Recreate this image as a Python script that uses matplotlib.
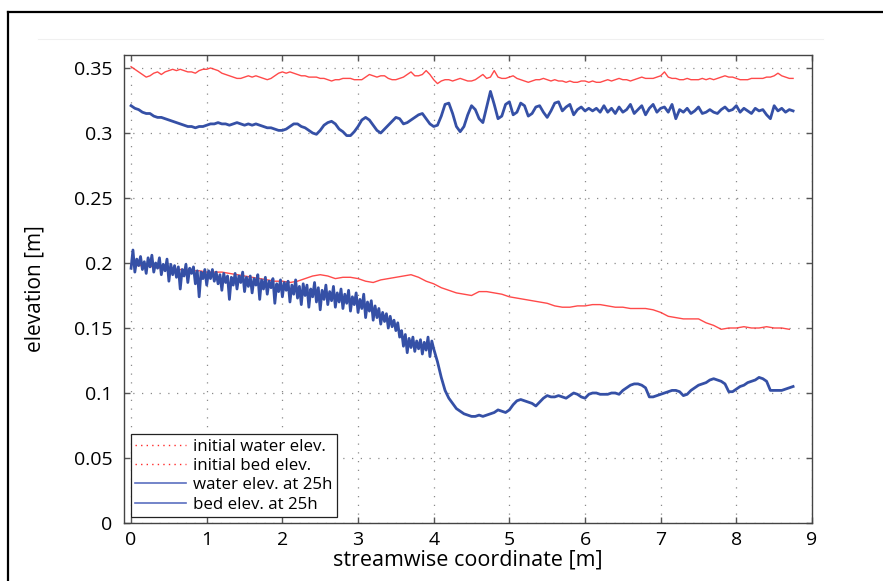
import numpy as np
import matplotlib
matplotlib.use("Agg")
import matplotlib.pyplot as plt
from matplotlib.lines import Line2D

plt.rcParams['font.family'] = ['Open Sans', 'DejaVu Sans']

# ---------------- data ----------------
step_top = 0.05
init_water = [
    0.351, 0.349, 0.347, 0.345, 0.343, 0.344, 0.346, 0.347, 0.345, 0.347,
    0.348, 0.349, 0.348, 0.349, 0.348, 0.347, 0.347, 0.346, 0.348, 0.349,
    0.349, 0.350, 0.349, 0.348, 0.346, 0.345, 0.344, 0.343, 0.342, 0.342,
    0.343, 0.344, 0.343, 0.344, 0.343, 0.342, 0.341, 0.342, 0.344, 0.346,
    0.347, 0.346, 0.347, 0.346, 0.345, 0.344, 0.344, 0.343, 0.343, 0.343,
    0.342, 0.342, 0.341, 0.340, 0.341, 0.341, 0.342, 0.342, 0.342, 0.341,
    0.341, 0.341, 0.343, 0.345, 0.344, 0.343, 0.344, 0.344, 0.342, 0.341,
    0.341, 0.342, 0.343, 0.345, 0.347, 0.344, 0.344, 0.345, 0.348, 0.345,
    0.341, 0.338, 0.340, 0.341, 0.341, 0.340, 0.341, 0.342, 0.341, 0.340,
    0.340, 0.341, 0.343, 0.345, 0.342, 0.343, 0.348, 0.343, 0.342, 0.342,
    0.343, 0.344, 0.342, 0.341, 0.340, 0.339, 0.340, 0.341, 0.341, 0.342,
    0.341, 0.340, 0.341, 0.340, 0.340, 0.339, 0.340, 0.339, 0.339, 0.340,
    0.340, 0.339, 0.340, 0.339, 0.339, 0.340, 0.341, 0.340, 0.341, 0.342,
    0.341, 0.341, 0.340, 0.341, 0.342, 0.343, 0.342, 0.342, 0.342, 0.343,
    0.344, 0.347, 0.343, 0.342, 0.342, 0.341, 0.341, 0.342, 0.341, 0.341,
    0.341, 0.342, 0.341, 0.342, 0.341, 0.342, 0.343, 0.344, 0.343, 0.343,
    0.342, 0.341, 0.341, 0.341, 0.342, 0.342, 0.342, 0.342, 0.343, 0.343,
    0.344, 0.346, 0.344, 0.343, 0.342, 0.342,
]

water_25h = [
    0.321, 0.319, 0.318, 0.316, 0.315, 0.315, 0.313, 0.312, 0.312, 0.311,
    0.310, 0.309, 0.308, 0.307, 0.306, 0.305, 0.305, 0.304, 0.305, 0.305,
    0.306, 0.307, 0.307, 0.308, 0.307, 0.307, 0.306, 0.307, 0.308, 0.307,
    0.306, 0.307, 0.306, 0.307, 0.306, 0.305, 0.304, 0.304, 0.303, 0.302,
    0.302, 0.303, 0.305, 0.307, 0.307, 0.305, 0.304, 0.302, 0.300, 0.299,
    0.302, 0.306, 0.308, 0.309, 0.307, 0.303, 0.301, 0.298, 0.298, 0.301,
    0.305, 0.310, 0.312, 0.310, 0.306, 0.302, 0.300, 0.303, 0.306, 0.309,
    0.312, 0.311, 0.307, 0.308, 0.310, 0.312, 0.314, 0.315, 0.311, 0.307,
    0.305, 0.306, 0.313, 0.322, 0.323, 0.315, 0.305, 0.301, 0.305, 0.314,
    0.321, 0.318, 0.311, 0.308, 0.320, 0.332, 0.322, 0.311, 0.313, 0.322,
    0.324, 0.314, 0.316, 0.323, 0.321, 0.313, 0.315, 0.320, 0.321, 0.316,
    0.312, 0.317, 0.323, 0.324, 0.317, 0.320, 0.322, 0.314, 0.318, 0.320,
    0.317, 0.319, 0.317, 0.319, 0.316, 0.321, 0.316, 0.319, 0.315, 0.320,
    0.316, 0.318, 0.322, 0.315, 0.318, 0.321, 0.314, 0.319, 0.322, 0.316,
    0.319, 0.320, 0.316, 0.322, 0.311, 0.318, 0.316, 0.319, 0.315, 0.317,
    0.320, 0.315, 0.316, 0.318, 0.316, 0.315, 0.318, 0.320, 0.317, 0.318,
    0.321, 0.316, 0.319, 0.317, 0.315, 0.319, 0.317, 0.318, 0.314, 0.311,
    0.321, 0.317, 0.319, 0.316, 0.318, 0.317,
]

step_init_bed = 0.1
init_bed = [
    0.199, 0.198, 0.198, 0.197, 0.196, 0.196, 0.195, 0.195, 0.194, 0.194,
    0.193, 0.193, 0.193, 0.192, 0.191, 0.190, 0.189, 0.188, 0.187, 0.186,
    0.186, 0.185, 0.186, 0.188, 0.190, 0.191, 0.190, 0.188, 0.189, 0.189,
    0.188, 0.186, 0.185, 0.187, 0.188, 0.189, 0.190, 0.191, 0.189, 0.186,
    0.184, 0.181, 0.179, 0.177, 0.176, 0.175, 0.178, 0.178, 0.177, 0.176,
    0.174, 0.173, 0.172, 0.171, 0.170, 0.169, 0.167, 0.166, 0.166, 0.167,
    0.167, 0.168, 0.168, 0.167, 0.166, 0.166, 0.165, 0.165, 0.165, 0.164,
    0.162, 0.159, 0.158, 0.157, 0.157, 0.157, 0.154, 0.152, 0.149, 0.150,
    0.150, 0.151, 0.150, 0.150, 0.151, 0.150, 0.150, 0.149,
]

# bed at 25h: fine sampling (0.025 m) from 0 to 4 m, then 0.05 m
step_bed_fine = 0.025
bed_25h_fine = [
    0.196, 0.210, 0.193, 0.203, 0.198, 0.205, 0.195, 0.201, 0.192, 0.204,
    0.197, 0.206, 0.193, 0.200, 0.196, 0.204, 0.191, 0.199, 0.194, 0.203,
    0.186, 0.199, 0.191, 0.198, 0.189, 0.197, 0.180, 0.195, 0.190, 0.199,
    0.185, 0.196, 0.192, 0.197, 0.184, 0.194, 0.174, 0.193, 0.188, 0.195,
    0.183, 0.194, 0.188, 0.195, 0.186, 0.193, 0.184, 0.191, 0.179, 0.192,
    0.185, 0.190, 0.172, 0.189, 0.183, 0.192, 0.180, 0.190, 0.185, 0.193,
    0.178, 0.189, 0.182, 0.190, 0.177, 0.188, 0.183, 0.191, 0.172, 0.187,
    0.180, 0.189, 0.176, 0.186, 0.181, 0.188, 0.169, 0.184, 0.178, 0.187,
    0.174, 0.185, 0.179, 0.186, 0.170, 0.183, 0.176, 0.187, 0.173, 0.182,
    0.168, 0.184, 0.175, 0.183, 0.166, 0.180, 0.174, 0.185, 0.170, 0.181,
    0.164, 0.179, 0.172, 0.183, 0.168, 0.178, 0.171, 0.182, 0.166, 0.177,
    0.170, 0.180, 0.165, 0.176, 0.169, 0.179, 0.163, 0.174, 0.168, 0.177,
    0.162, 0.172, 0.165, 0.176, 0.158, 0.170, 0.163, 0.171, 0.156, 0.167,
    0.158, 0.165, 0.153, 0.162, 0.155, 0.161, 0.150, 0.159, 0.151, 0.156,
    0.148, 0.154, 0.143, 0.148, 0.136, 0.145, 0.131, 0.142, 0.135, 0.143,
    0.132, 0.140, 0.134, 0.141, 0.130, 0.139, 0.133, 0.143, 0.128, 0.140,
    0.134,
]
bed_start_coarse = 4.05
step_bed_coarse = 0.05
bed_25h_coarse = [
    0.124, 0.112, 0.102, 0.096, 0.092, 0.088, 0.086, 0.084, 0.083, 0.082,
    0.082, 0.083, 0.082, 0.083, 0.084, 0.085, 0.087, 0.086, 0.085, 0.087,
    0.091, 0.094, 0.095, 0.094, 0.093, 0.092, 0.090, 0.093, 0.096, 0.098,
    0.097, 0.097, 0.098, 0.097, 0.096, 0.098, 0.100, 0.099, 0.097, 0.096,
    0.099, 0.100, 0.100, 0.099, 0.099, 0.099, 0.100, 0.100, 0.099, 0.102,
    0.104, 0.106, 0.107, 0.107, 0.106, 0.104, 0.097, 0.097, 0.098, 0.099,
    0.100, 0.101, 0.102, 0.102, 0.101, 0.098, 0.099, 0.102, 0.104, 0.106,
    0.107, 0.108, 0.110, 0.111, 0.110, 0.109, 0.107, 0.101, 0.101, 0.103,
    0.105, 0.106, 0.108, 0.109, 0.110, 0.112, 0.111, 0.109, 0.102, 0.102,
    0.102, 0.102, 0.103, 0.104, 0.105,
]

x_ticks = [0, 1, 2, 3, 4, 5, 6, 7, 8, 9]
y_ticks = [0, 0.05, 0.1, 0.15, 0.2, 0.25, 0.3, 0.35]
y_ticklabels = ['0', '0.05', '0.1', '0.15', '0.2', '0.25', '0.3', '0.35']
labels = ['initial water elev.', 'initial bed elev.',
          'water elev. at 25h', 'bed elev. at 25h']

# ---------------- positions ----------------
x_iw = step_top * np.arange(len(init_water))
x_w25 = step_top * np.arange(len(water_25h))
x_ib = np.minimum(step_init_bed * np.arange(len(init_bed)), 8.75)
x_bf = step_bed_fine * np.arange(len(bed_25h_fine))
x_bc = bed_start_coarse + step_bed_coarse * np.arange(len(bed_25h_coarse))
x_b25 = np.concatenate([x_bf, x_bc])
y_b25 = np.concatenate([bed_25h_fine, bed_25h_coarse])

RED = '#ff2a2a'
BLUE = '#3550a6'
LBLUE = '#5b6fc0'

fig = plt.figure(figsize=(8.83, 5.81), dpi=100)
ax = fig.add_axes([123.5 / 883, 1 - 523 / 581, (812 - 123.5) / 883, (523 - 55) / 581])

ax.plot(x_ib, init_bed, color=RED, lw=1.0, alpha=0.85, zorder=3)
ax.plot(x_b25, y_b25, color=BLUE, lw=2.0, zorder=4, solid_joinstyle='round')
ax.plot(x_iw, init_water, color=RED, lw=1.0, alpha=0.85, zorder=3)
ax.plot(x_w25, water_25h, color=BLUE, lw=2.0, zorder=4, solid_joinstyle='round')

ax.set_xlim(-0.1, 9)
ax.set_ylim(0, 0.36)
ax.set_xticks(x_ticks)
ax.set_yticks(y_ticks)
ax.set_yticklabels(y_ticklabels)
ax.tick_params(direction='in', length=4, width=1, color='#555555',
               top=True, right=True, labelsize=14, pad=6)
ax.tick_params(axis='y', pad=8)
ax.grid(True, color='#8a8a8a', linestyle=(0, (1, 6)), lw=0.9)
for s in ax.spines.values():
    s.set_color('#444444')
    s.set_linewidth(1.0)

ax.set_xlabel('streamwise coordinate [m]', fontsize=15.5, labelpad=0)
ax.set_ylabel('elevation [m]', fontsize=15, labelpad=20)

handles = [
    Line2D([], [], color=RED, lw=1.0, linestyle=(0, (1, 3))),
    Line2D([], [], color=RED, lw=1.0, linestyle=(0, (1, 3))),
    Line2D([], [], color=LBLUE, lw=1.2),
    Line2D([], [], color=LBLUE, lw=1.2),
]
leg = ax.legend(handles, labels, loc='lower left', bbox_to_anchor=(0.011, 0.013),
                borderaxespad=0, fontsize=12.2, frameon=True, fancybox=False,
                edgecolor='#222222', framealpha=1, handlelength=3.0,
                handletextpad=0.4, labelspacing=0.2, borderpad=0.25)
leg.get_frame().set_linewidth(0.9)
leg.set_zorder(10)

# outer frame and faint line
fig.add_artist(Line2D([8 / 883, 8 / 883], [-0.05, 1 - 12 / 581],
                      color='black', lw=1.6, transform=fig.transFigure))
fig.add_artist(Line2D([8 / 883, 1.05], [1 - 12 / 581, 1 - 12 / 581],
                      color='black', lw=1.6, transform=fig.transFigure))
fig.add_artist(Line2D([38 / 883, 823 / 883], [1 - 39 / 581, 1 - 39 / 581],
                      color='#f0f0f0', lw=0.8, transform=fig.transFigure))

fig.savefig('out.png', dpi=100)
